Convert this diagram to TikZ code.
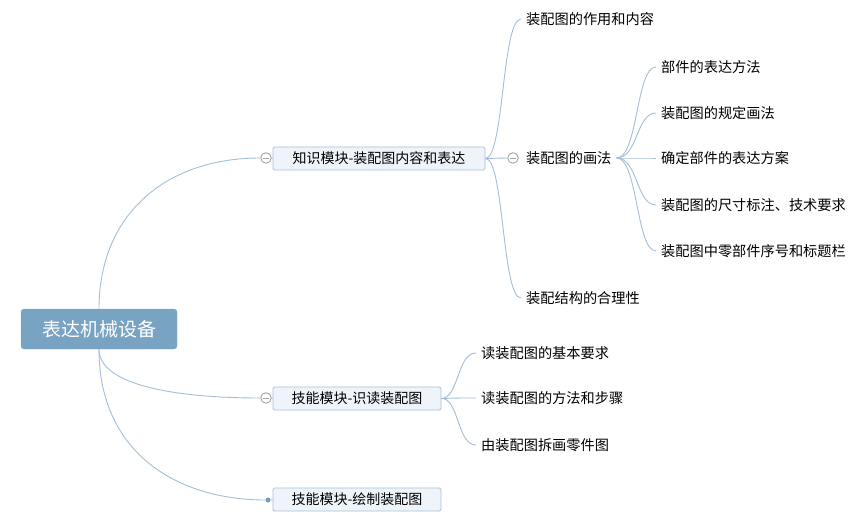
\documentclass[tikz,border=0pt]{standalone}
\usepackage{fontspec}
\setmainfont{Noto Sans CJK SC}
\definecolor{raizAzul}{HTML}{78A3C3}
\definecolor{temaFondo}{HTML}{EFF4FA}
\definecolor{temaBorde}{HTML}{A6C2DA}
\definecolor{lineaAzul}{HTML}{A3BED6}
\definecolor{puntoAzul}{HTML}{6F9DC4}
\definecolor{plegarGris}{HTML}{A4A4A4}

\begin{document}
\begin{tikzpicture}[
    x=1pt, y=-1pt,
    % Estilos de los nodos del mapa mental
    raiz/.style={rectangle, rounded corners=3pt, fill=raizAzul, draw=raizAzul!85!white, text=white, font=\fontsize{19}{22}\selectfont, minimum width=156pt, minimum height=40pt, inner sep=0pt},
    tema/.style={rectangle, rounded corners=1.5pt, fill=temaFondo, draw=temaBorde, line width=0.8pt, font=\fontsize{14}{16}\selectfont, minimum height=23pt, inner sep=0pt},
    hoja/.style={anchor=west, font=\fontsize{14.2}{16}\selectfont, inner xsep=5pt, inner ysep=2pt},
    plegar/.style={circle, draw=plegarGris, fill=white, line width=0.9pt, minimum size=10.5pt, inner sep=0pt,
        path picture={\draw[plegarGris, line width=0.9pt] ([xshift=-3pt]path picture bounding box.center) -- ([xshift=3pt]path picture bounding box.center);}},
    punto/.style={circle, fill=puntoAzul, minimum size=5pt, inner sep=0pt},
    % Estilo de las ramas
    rama/.style={draw=lineaAzul, line width=0.9pt}
]
    \useasboundingbox (0,0) rectangle (867,521);

    % --- NODO CENTRAL ---
    \node[raiz] (raiz) at (99,329) {表达机械设备};

    % --- PRIMER NIVEL ---
    \node[tema, minimum width=212pt] (conocer) at (379,158.5) {知识模块-装配图内容和表达};
    \node[tema, minimum width=168pt] (leer)    at (357,398.5) {技能模块-识读装配图};
    \node[tema, minimum width=168pt] (dibujar) at (357,499.5) {技能模块-绘制装配图};

    \node[plegar] (pConocer) at (266,158) {};
    \node[plegar] (pLeer)    at (266,398) {};
    \node[punto]  (pDibujar) at (268,500) {};

    % --- SEGUNDO NIVEL (conocer) ---
    \node[hoja] (uso)     at (521,19)  {装配图的作用和内容};
    \node[hoja] (metodo)  at (521,158) {装配图的画法};
    \node[hoja] (razon)   at (521,298) {装配结构的合理性};
    \node[plegar] (pMetodo) at (513,158) {};

    % --- TERCER NIVEL (metodo) ---
    \node[hoja] (m1) at (656,67)  {部件的表达方法};
    \node[hoja] (m2) at (656,113) {装配图的规定画法};
    \node[hoja] (m3) at (656,158) {确定部件的表达方案};
    \node[hoja] (m4) at (656,205) {装配图的尺寸标注、技术要求};
    \node[hoja] (m5) at (656,251) {装配图中零部件序号和标题栏};

    % --- SEGUNDO NIVEL (leer) ---
    \node[hoja] (l1) at (476,353) {读装配图的基本要求};
    \node[hoja] (l2) at (476,398) {读装配图的方法和步骤};
    \node[hoja] (l3) at (476,445) {由装配图拆画零件图};

    % --- RAMAS DESDE LA RAIZ ---
    \draw[rama] (raiz.north) .. controls (99,215) and (165,158) .. (pConocer.west);
    \draw[rama] (raiz.south) .. controls (99,385) and (175,398) .. (pLeer.west);
    \draw[rama] (raiz.south) .. controls (99,455) and (180,500) .. (pDibujar.west);
    \draw[rama] (pConocer.east) -- (conocer.west);
    \draw[rama] (pLeer.east) -- (leer.west);
    \draw[rama] (pDibujar.east) -- (dibujar.west);

    % --- RAMAS DE conocer ---
    \draw[rama] (conocer.east) .. controls (504,158) and (502,19) .. (uso.west);
    \draw[rama] (conocer.east) -- (pMetodo.west);
    \draw[rama] (conocer.east) .. controls (504,158) and (502,298) .. (razon.west);

    % --- RAMAS DE metodo ---
    \foreach \m in {m1,m2,m3,m4,m5}
        \draw[rama] (metodo.east) .. controls (638,158) and (636,0 |- \m.west) .. (\m.west);

    % --- RAMAS DE leer ---
    \foreach \l in {l1,l2,l3}
        \draw[rama] (leer.east) .. controls (459,398) and (457,0 |- \l.west) .. (\l.west);

\end{tikzpicture}
\end{document}
